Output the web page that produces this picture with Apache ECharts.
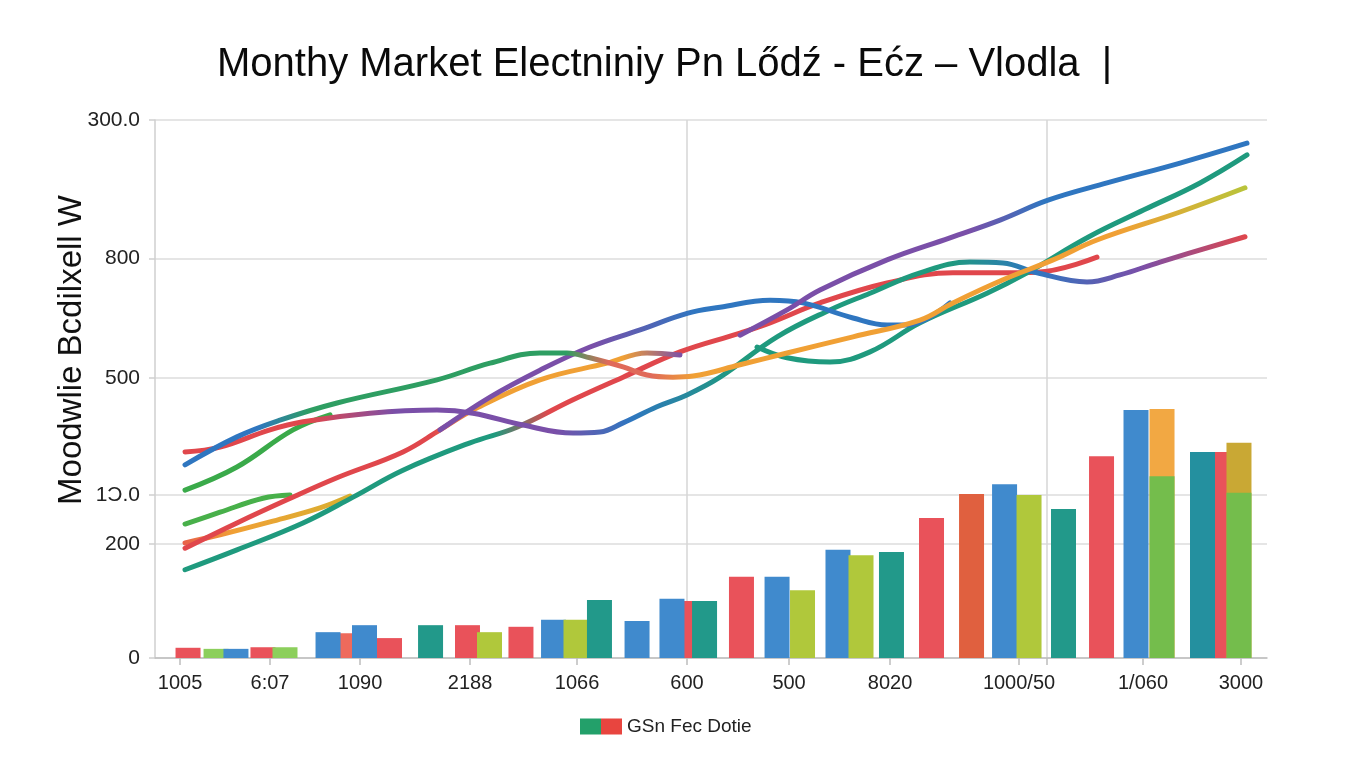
<!DOCTYPE html>
<html><head><meta charset="utf-8">
<script src="https://cdn.jsdelivr.net/npm/echarts@6/dist/echarts.min.js"></script>
<style>html,body{margin:0;padding:0;background:#fff}#c{width:1360px;height:768px}</style>
</head><body><div id="c"></div>
<script>
const titleText = 'Monthy Market Electniniy Pn Lődź - Ećz – Vlodla  |';
const yAxisTitle = 'Moodwlie Bcdilxell W';
const legendLabel = 'GSn Fec Dotie';

const xTickValues = [2.25,10.34,18.44,28.33,37.95,47.84,57.02,66.10,77.70,80.22,88.85,97.66];
const xLabelValues = [2.25,10.34,18.44,28.33,37.95,47.84,57.02,66.10,77.70,88.85,97.66];
const xLabelTexts = ['1005','6:07','1090','2188','1066','600','500','8020','1000/50','1/060','3000'];
const yTickValues = [0,212,303,520,743,1000];
const yLabelTexts = ['0','200','1Ɔ.0','500','800','300.0'];
const xGridValues = [47.84, 80.22];

// bars
const barX = [2.97,5.49,7.28,9.71,11.69,15.56,17.31,18.84,21.09,24.78,28.10,30.08,32.91,35.84,37.86,39.97,43.35,46.49,47.84,49.42,52.74,55.94,58.23,61.42,63.49,66.23,69.83,73.43,76.40,78.60,81.70,85.12,88.22,90.56,94.20,96.40,97.48];
const barValues = [19,17,17,20,20,48,46,61,37,61,61,48,58,71,71,108,69,110,106,106,151,151,126,201,191,197,260,305,323,303,277,375,461,338,383,383,307];
const barTones = ['red','lgreen','blue','red','lgreen','blue','salmon','blue','red','teal','red','yg','red','blue','yg','teal','blue','blue','red','teal','red','blue','yg','blue','yg','teal','red','orangered','blue','yg','teal','red','blue','green','tealblue','red','green'];
const backBars = [6,18,35];
const capX = [90.56,97.48];
const capValues = [463,400];
const capTones = ['orange','gold'];

// lines  [x, value]
const lineA = [[2.70,359],[7.37,411],[11.24,442],[16.37,474],[25.36,517],[30.13,548],[34.62,567],[37.05,567],[39.12,558],[42.09,541],[44.25,526],[46.58,522],[48.38,524],[52.61,545],[56.84,567],[62.77,597],[68.80,628],[71.76,660],[76.26,703],[80.76,740],[84.71,777],[92.18,829],[98.02,874]];
const lineB = [[2.70,383],[5.85,392],[10.34,424],[13.31,439],[19.33,455],[25.36,461],[28.60,455],[33.09,433],[37.59,418],[40.02,420],[42.09,437],[45.14,467],[47.84,489],[50.81,522],[55.94,597],[60.70,647],[64.30,678],[68.80,716],[73.29,736],[76.26,734],[79.32,716],[83.81,699],[86.78,712],[90.38,736],[98.02,783]];
const lineC = [[2.70,164],[7.37,201],[13.31,251],[17.81,299],[22.30,349],[28.33,400],[32.55,429],[37.59,480],[42.09,522],[47.21,569],[52.61,604],[55.31,623],[59.80,660],[65.83,697],[71.76,716],[76.26,716],[79.32,717],[84.71,745]];
const lineD = [[2.70,204],[7.37,251],[11.87,294],[16.37,335],[22.30,383],[25.63,424],[28.60,461],[34.62,517],[40.65,548],[44.25,567],[47.21,563]];
const lineE = [[25.63,424],[30.13,485],[34.62,535],[39.12,578],[43.62,610],[47.93,641],[50.81,652],[55.31,665],[58.27,660],[62.77,632],[65.83,619],[67.63,619],[71.49,660]];
const lineF = [[52.61,600],[56.84,647],[59.80,684],[65.83,740],[71.49,781],[75.99,814],[80.31,851],[85.61,883],[92.18,920],[98.20,957]];
const lineG = [[54.14,578],[56.84,558],[60.70,550],[64.30,569],[68.80,623],[74.82,678],[78.42,716],[83.99,783],[88.94,833],[93.98,883],[98.20,935]];
const lineH = [[2.70,312],[7.37,355],[12.41,424],[15.74,452]];
const lineI = [[2.70,249],[5.85,271],[9.71,297],[12.14,303]];
const lineJ = [[2.70,214],[5.85,229],[10.34,253],[14.84,279],[17.54,301]];

const palette = {
  red:'#e9525a', lgreen:'#8ccf5c', blue:'#408acd', salmon:'#ee6a5c', teal:'#22998a', yg:'#b0c83b',
  orangered:'#e0603f', green:'#74bd4c', tealblue:'#24909f', orange:'#f2a843', gold:'#c9a834'
};
const C = {blue:'#2f76c0', green:'#2e9e62', teal:'#1f9a7e', red:'#e0474c', orange:'#f0a035', purple:'#7a4fa8', yg:'#b8c43a', salmon:'#e06a5a'};

function grad(stops){
  return new echarts.graphic.LinearGradient(0,0,1,0, stops.map(s=>({offset:s[0], color:s[1]})));
}
const FONT = '"Liberation Sans", Arial, sans-serif';

function barItems(indices){
  return indices.map(i=>({value:[barX[i], barValues[i]], itemStyle:{color:palette[barTones[i]]}}));
}
const allIdx = barX.map((_,i)=>i);
const frontIdx = allIdx.filter(i=>backBars.indexOf(i)<0);
const backItems = barItems(backBars).concat(capX.map((x,i)=>({value:[x, capValues[i]], itemStyle:{color:palette[capTones[i]]}})));

function lineSeries(name, data, color){
  return {type:'line', name, data, smooth:0.4, showSymbol:false, symbol:'none', z:5,
    lineStyle:{width:5, color, cap:'round', join:'round'}, emphasis:{disabled:true}};
}

const chart = echarts.init(document.getElementById('c'), null, {renderer:'canvas'});
function pick(vals, texts, v){
  let best=0; for(let i=0;i<vals.length;i++){ if(Math.abs(vals[i]-v)<Math.abs(vals[best]-v)) best=i; }
  return texts[best];
}
chart.setOption({
  animation:false,
  backgroundColor:'#fff',
  title:{text:titleText, left:212, top:40, textStyle:{fontFamily:FONT, fontSize:40, fontWeight:'normal', color:'#0a0a0a'}},
  graphic:[{type:'text', x:72, y:350, rotation:Math.PI/2,
    style:{text:yAxisTitle, font:'33px "Liberation Sans", Arial, sans-serif', fill:'#111', align:'center', verticalAlign:'middle'}}],
  legend:{left:575, top:712, itemWidth:42, itemHeight:16, icon:'rect', itemGap:6,
    textStyle:{fontFamily:FONT, fontSize:19, color:'#222'}, data:[legendLabel]},
  grid:{left:155, right:93, top:120, bottom:110, containLabel:false},
  xAxis:[{type:'value', min:0, max:100, position:'bottom',
      axisLine:{show:true, onZero:false, lineStyle:{color:'#bdbdbd', width:1.5}},
      axisTick:{show:true, customValues:xTickValues, length:7, lineStyle:{color:'#bdbdbd', width:1.5}},
      axisLabel:{customValues:xLabelValues, formatter:v=>pick(xLabelValues,xLabelTexts,v), fontFamily:FONT, fontSize:20, color:'#222', margin:15},
      splitLine:{show:false}},
    {type:'value', min:0, max:100, position:'top',
      axisLine:{show:false}, axisTick:{show:false, customValues:xGridValues}, axisLabel:{show:false},
      splitLine:{show:true, lineStyle:{color:'#d6d6d6', width:1.5}}}],
  yAxis:{type:'value', min:0, max:1000,
    axisLine:{show:true, lineStyle:{color:'#cfcfcf', width:1.5}},
    axisTick:{show:true, customValues:yTickValues, length:6, lineStyle:{color:'#cfcfcf', width:1.5}},
    axisLabel:{customValues:yTickValues, formatter:v=>pick(yTickValues,yLabelTexts,v), fontFamily:FONT, fontSize:21, color:'#222', margin:15},
    splitLine:{show:true, lineStyle:{color:'#dcdcdc', width:1.5}}},
  series:[
    {type:'bar', name:'back', data:backItems, barWidth:25, barGap:'-100%', z:2},
    {type:'bar', name:'front', data:barItems(frontIdx), barWidth:25, barGap:'-100%', z:3},
    {type:'scatter', name:legendLabel, data:[], itemStyle:{opacity:1, color:grad([[0,'#23a06a'],[0.5,'#23a06a'],[0.5,'#e8453f'],[1,'#e8453f']])}},
    lineSeries('J', lineJ, grad([[0,'#e8604a'],[0.3,C.orange],[1,'#d8b030']])),
    lineSeries('I', lineI, '#48b04a'),
    lineSeries('H', lineH, '#3aaa4a'),
    lineSeries('C', lineC, grad([[0,C.teal],[0.34,C.teal],[0.4,C.red],[1,C.red]])),
    lineSeries('D', lineD, grad([[0,C.red],[0.5,C.red],[0.6,C.orange],[0.88,C.orange],[1,C.purple]])),
    lineSeries('G', lineG, C.teal),
    lineSeries('B', lineB, grad([[0,C.red],[0.12,C.red],[0.2,C.purple],[0.35,C.purple],[0.42,C.blue],[0.52,C.teal],[0.72,C.teal],[0.8,C.blue],[0.9,C.purple],[1,C.red]])),
    lineSeries('E', lineE, grad([[0,C.purple],[0.3,C.purple],[0.5,C.blue],[1,C.blue]])),
    lineSeries('F', lineF, grad([[0,C.purple],[0.45,C.purple],[0.6,C.blue],[1,C.blue]])),
    lineSeries('A', lineA, grad([[0,C.blue],[0.07,C.blue],[0.12,C.green],[0.36,C.green],[0.4,C.salmon],[0.44,C.salmon],[0.48,C.orange],[0.88,C.orange],[1,C.yg]]))
  ]
});
</script></body></html>
